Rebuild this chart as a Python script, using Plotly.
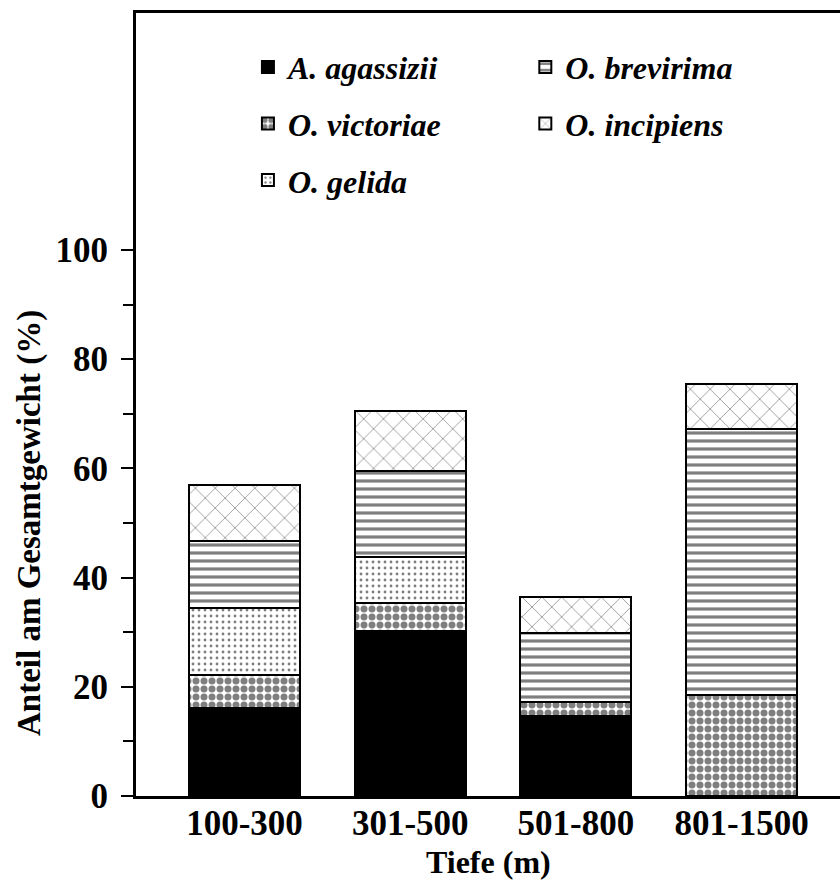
import plotly.graph_objects as go

depths = ["100-300", "301-500", "501-800", "801-1500"]
species = ["A. agassizii", "O. victoriae", "O. gelida", "O. brevirima", "O. incipiens"]
agassizii = [16.1, 30.2, 14.6, 0.0]
victoriae = [6.1, 5.1, 2.7, 18.5]
gelida = [12.2, 8.5, 0.0, 0.0]
brevirima = [12.3, 15.7, 12.5, 48.7]
incipiens = [10.3, 11.0, 6.6, 8.3]
ytick_vals = [0, 20, 40, 60, 80, 100]
yminor_vals = [10, 30, 50, 70, 90]

series = [agassizii, victoriae, gelida, brevirima, incipiens]
patterns = [
    dict(shape="", fgcolor="black", bgcolor="black"),
    dict(shape=".", fgcolor="black", bgcolor="white", size=8, solidity=0.6, fillmode="overlay"),
    dict(shape=".", fgcolor="black", bgcolor="white", size=6, solidity=0.18, fillmode="overlay"),
    dict(shape="-", fgcolor="black", bgcolor="white", size=8, solidity=0.4, fillmode="overlay"),
    dict(shape="x", fgcolor="black", bgcolor="white", size=14, solidity=0.1, fillmode="overlay"),
]
legend_ids = ["legend", "legend", "legend", "legend2", "legend2"]
FONT = "Liberation Serif"

fig = go.Figure()
for i, (name, vals) in enumerate(zip(species, series)):
    fig.add_trace(go.Bar(
        x=depths, y=vals, name=name, width=0.67,
        marker=dict(color="white" if i else "black",
                    line=dict(color="black", width=2),
                    pattern=patterns[i]),
        legend=legend_ids[i], legendgroup=name,
    ))

legend_common = dict(
    font=dict(family=FONT, size=32, color="black", weight="bold", style="italic"),
    bgcolor="rgba(0,0,0,0)", tracegroupgap=12, itemwidth=30,
    yanchor="top", xanchor="left", traceorder="grouped",
)
fig.update_layout(
    barmode="stack",
    width=840, height=891,
    margin=dict(l=136, r=0, t=13, b=95),
    paper_bgcolor="white", plot_bgcolor="white",
    font=dict(family=FONT, color="black"),
    legend=dict(x=0.159, y=0.966, **legend_common),
    legend2=dict(x=0.553, y=0.966, **legend_common),
    xaxis=dict(
        range=[-0.655, 3.594], showline=True, linecolor="black", linewidth=3,
        mirror=True, ticks="", showgrid=False, zeroline=False,
        tickfont=dict(family=FONT, size=35, color="black", weight="bold"),
        ticklabelstandoff=-6,
    ),
    yaxis=dict(
        range=[0, 143.4], showline=True, linecolor="black", linewidth=3,
        tickmode="array", tickvals=ytick_vals, ticks="outside", ticklen=12,
        tickwidth=2, tickcolor="black", showgrid=False, zeroline=False,
        tickfont=dict(family=FONT, size=35, color="black", weight="bold"),
        ticklabelstandoff=6,
        minor=dict(tickmode="array", tickvals=yminor_vals, ticks="outside",
                   ticklen=10, tickwidth=2, tickcolor="black", showgrid=False),
    ),
    annotations=[
        dict(text="Anteil am Gesamtgewicht (%)", xref="paper", yref="y",
             x=-0.1506, y=50, textangle=-90, showarrow=False,
             xanchor="center", yanchor="middle",
             font=dict(family=FONT, size=33, color="black", weight="bold")),
        dict(text="Tiefe (m)", xref="paper", yref="paper",
             x=0.5, y=-0.0843, showarrow=False, xanchor="center", yanchor="middle",
             font=dict(family=FONT, size=32, color="black", weight="bold")),
    ],
)
fig.write_html("out.html")
